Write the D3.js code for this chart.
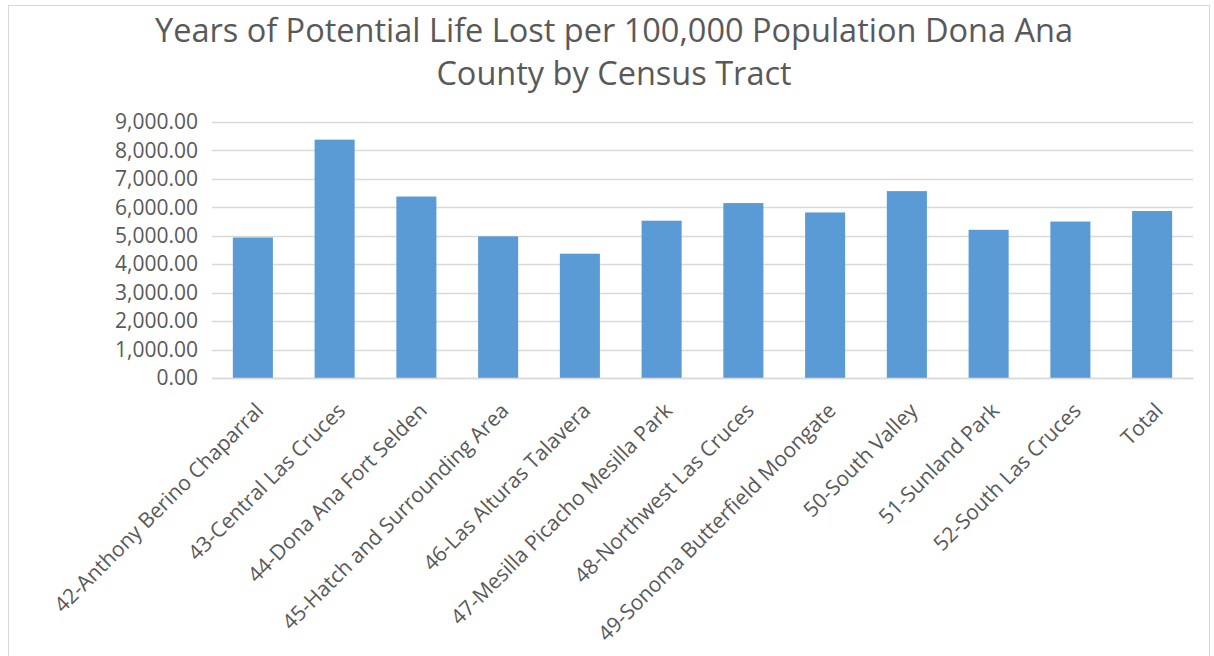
<!DOCTYPE html>
<html>
<head>
<meta charset="utf-8">
<script src="https://cdn.jsdelivr.net/npm/d3@7"></script>
<style>
  body { margin: 0; background: #fff; }
  text { font-family: "Open Sans", sans-serif; fill: #595959; }
</style>
</head>
<body>
<div id="wrapper"></div>
<script>
const tracts = [
  "42-Anthony Berino Chaparral",
  "43-Central Las Cruces",
  "44-Dona Ana Fort Selden",
  "45-Hatch and Surrounding Area",
  "46-Las Alturas Talavera",
  "47-Mesilla Picacho Mesilla Park",
  "48-Northwest Las Cruces",
  "49-Sonoma Butterfield Moongate",
  "50-South Valley",
  "51-Sunland Park",
  "52-South Las Cruces",
  "Total",
]
const ypll = [4940, 8380, 6380, 4980, 4370, 5530, 6150, 5820, 6570, 5210, 5500, 5870]
const yTicks = [0, 1000, 2000, 3000, 4000, 5000, 6000, 7000, 8000, 9000]
const titleLines = [
  "Years of Potential Life Lost per 100,000 Population Dona Ana",
  "County by Census Tract",
]

const dataset = tracts.map((name, i) => ({ name, value: ypll[i] }))

let dimensions = {
  width: 1214,
  height: 656,
  margins: { top: 122, right: 21, bottom: 278, left: 212 },
}
dimensions.boundedWidth = dimensions.width - dimensions.margins.left - dimensions.margins.right
dimensions.boundedHeight = dimensions.height - dimensions.margins.top - dimensions.margins.bottom

const wrapper = d3.select("#wrapper")
  .append("svg")
  .attr("width", dimensions.width)
  .attr("height", dimensions.height)

// chart area frame
wrapper.append("rect")
  .attr("x", 8.5)
  .attr("y", 5.5)
  .attr("width", 1201)
  .attr("height", 700)
  .attr("fill", "none")
  .attr("stroke", "#d9d9d9")

wrapper.append("g")
  .selectAll("text")
  .data(titleLines)
  .join("text")
  .attr("x", 614)
  .attr("y", (d, i) => 42 + i * 43)
  .attr("text-anchor", "middle")
  .style("font-size", "32.5px")
  .text(d => d)

const bounds = wrapper.append("g")
  .attr("transform", `translate(${dimensions.margins.left},${dimensions.margins.top})`)

const xScale = d3.scaleBand()
  .domain(tracts)
  .range([0, dimensions.boundedWidth])
  .paddingInner(0.51)
  .paddingOuter(0.255)

const yScale = d3.scaleLinear()
  .domain([0, 9000])
  .range([dimensions.boundedHeight, 0])

// gridlines
bounds.append("g")
  .selectAll("line")
  .data(yTicks)
  .join("line")
  .attr("x1", 0)
  .attr("x2", dimensions.boundedWidth)
  .attr("y1", d => Math.round(yScale(d)) + 0.5)
  .attr("y2", d => Math.round(yScale(d)) + 0.5)
  .attr("stroke", "#d9d9d9")
  .attr("stroke-width", 1.5)

bounds.append("g")
  .selectAll("rect")
  .data(dataset)
  .join("rect")
  .attr("x", d => xScale(d.name))
  .attr("width", xScale.bandwidth())
  .attr("y", d => yScale(d.value))
  .attr("height", d => dimensions.boundedHeight - yScale(d.value))
  .attr("fill", "#5b9bd5")

// y axis
const yAxisGenerator = d3.axisLeft(yScale)
  .tickValues(yTicks)
  .tickFormat(d3.format(",.2f"))
  .tickSize(0)
  .tickPadding(14)

const yAxis = bounds.append("g").call(yAxisGenerator)
yAxis.select(".domain").remove()
yAxis.selectAll("text")
  .style("font-size", "21px")
  .attr("fill", "#595959")
  .style("font-family", "'Open Sans', sans-serif")

// x axis
const xAxisGenerator = d3.axisBottom(xScale).tickSize(0).tickPadding(0)
const xAxis = bounds.append("g")
  .attr("transform", `translate(0,${dimensions.boundedHeight})`)
  .call(xAxisGenerator)
xAxis.select(".domain").attr("stroke", "#d9d9d9").attr("stroke-width", 1.5)
xAxis.selectAll("text")
  .style("font-size", "21px")
  .attr("fill", "#595959")
  .style("font-family", "'Open Sans', sans-serif")
  .style("text-anchor", "end")
  .attr("y", 0)
  .attr("dy", 0)
  .attr("transform", "translate(12,34) rotate(-45)")
</script>
</body>
</html>
